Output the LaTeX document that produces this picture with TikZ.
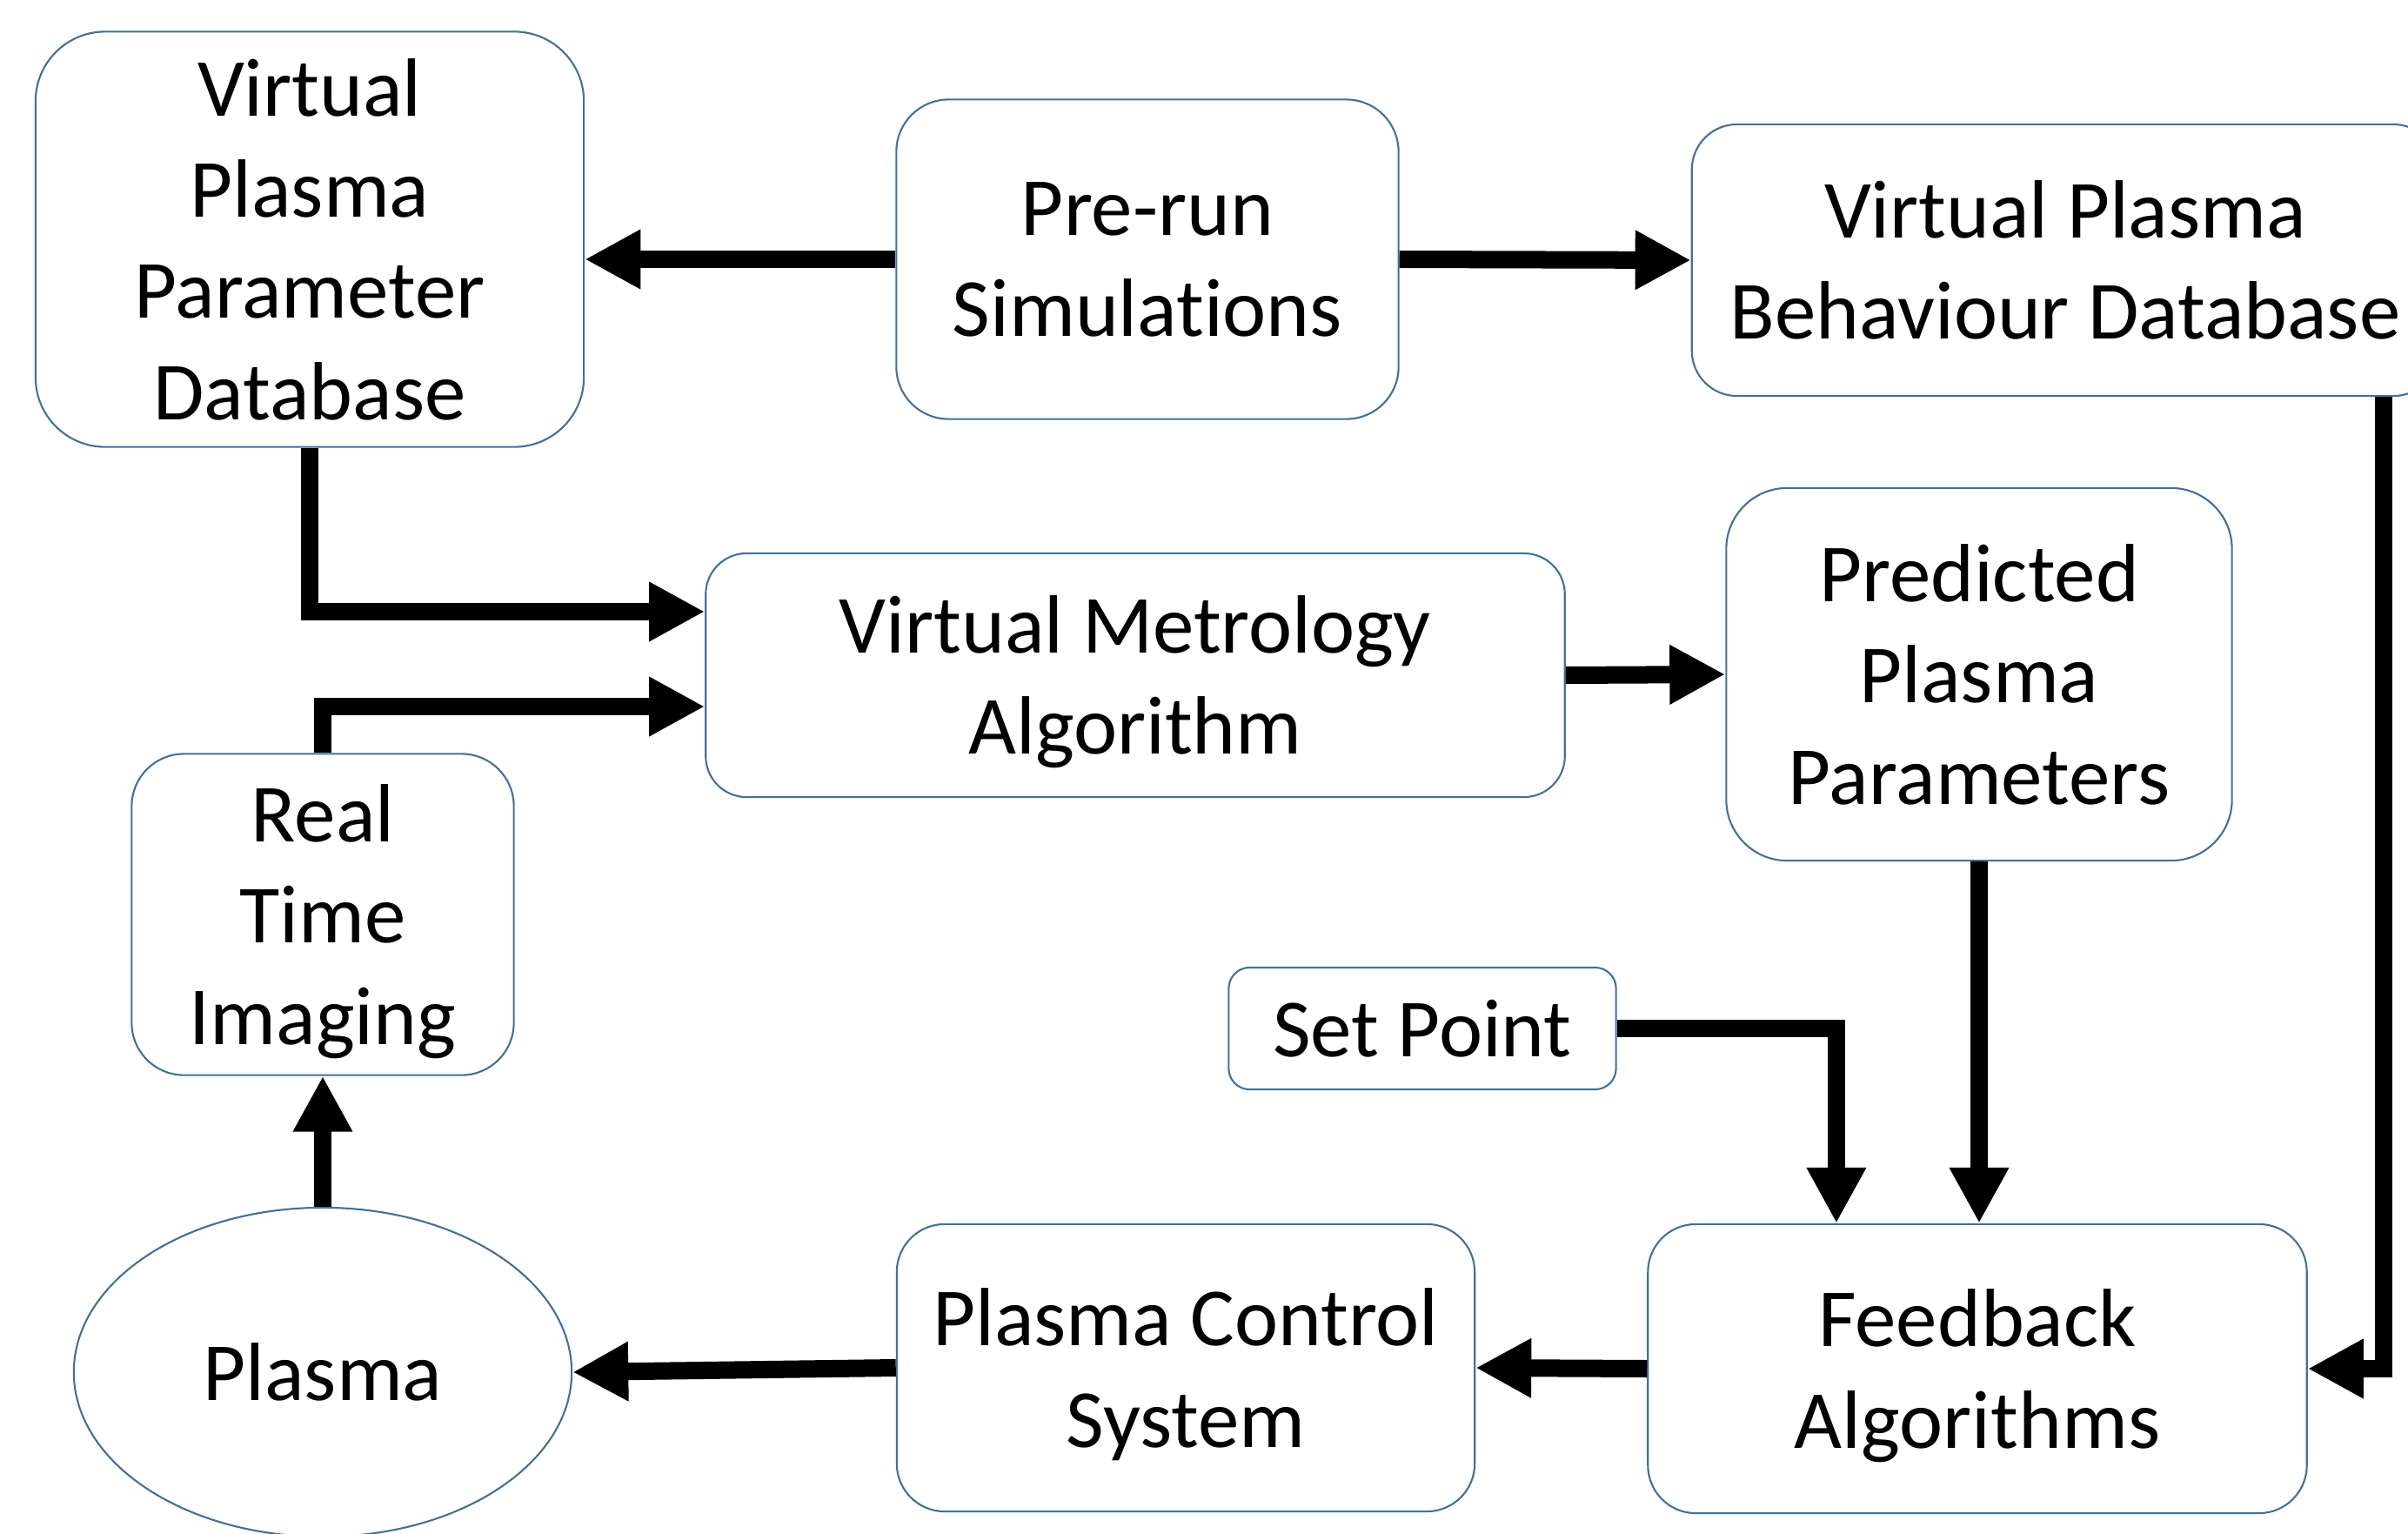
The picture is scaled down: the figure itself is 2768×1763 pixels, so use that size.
\documentclass[tikz,border=0pt]{standalone}
\usepackage{fontspec}
\setmainfont[Ligatures=NoCommon]{Carlito}
\usetikzlibrary{arrows.meta,shapes.geometric}
\definecolor{boxblue}{RGB}{65,113,156}
\tikzset{
    blk/.style={draw=boxblue, line width=0.6pt, fill=white, rounded corners=#1, align=center, inner sep=0pt, text depth=0pt},
    blk/.default=0.6cm,
    flow/.style={-{Triangle[length=0.64cm,width=0.64cm]}, line width=0.2cm},
}
\begin{document}
\begin{tikzpicture}[x=0.01cm, y=-0.01cm, font=\fontsize{27}{33}\selectfont]
                        \useasboundingbox (0,0) rectangle (2768,1763);

                        \node[blk=0.8cm, minimum width=6.3cm, minimum height=4.77cm] (vppd) at (356,275) {Virtual\\Plasma\\Parameter\\Database};
                        \node[blk=0.6cm, minimum width=5.77cm, minimum height=3.67cm] (prerun) at (1319,298) {Pre-run\\Simulations};
                        \node[blk=0.52cm, minimum width=8.58cm, minimum height=3.12cm] (vpbd) at (2374,299) {Virtual Plasma\\Behaviour Database};
                        \node[blk=0.47cm, minimum width=9.87cm, minimum height=2.8cm] (vma) at (1305,776) {Virtual Metrology\\Algorithm};
                        \node[blk=0.7cm, minimum width=5.81cm, minimum height=4.28cm] (ppp) at (2275,775) {Predicted\\Plasma\\Parameters};
                        \node[blk=0.6cm, minimum width=4.39cm, minimum height=3.69cm] (rti) at (371,1051) {Real\\Time\\Imaging};
                        \node[blk=0.24cm, minimum width=4.45cm, minimum height=1.4cm] (setpt) at (1635,1182) {Set Point};
                        \node[blk=0.55cm, minimum width=6.64cm, minimum height=3.3cm] (pcs) at (1363,1572) {Plasma Control\\System};
                        \node[blk=0.55cm, minimum width=7.57cm, minimum height=3.32cm] (fa) at (2273,1573) {Feedback\\Algorithms};
                        \node[blk, ellipse, minimum width=5.72cm, minimum height=3.78cm] (plasma) at (371,1577) {Plasma};

                        \draw[flow] (prerun.west) -- (vppd.east |- prerun.west);
                        \draw[flow] (prerun.east) -- (vpbd.west);
                        \draw[flow] (vppd.south) |- ([yshift=0.73cm]vma.west);
                        \draw[flow] (rti.north) |- ([yshift=-0.36cm]vma.west);
                        \draw[flow] (vma.east) -- (ppp.west);
                        \draw[flow] (ppp.south) -- (ppp.south |- fa.north);
                        \draw[flow] (setpt.east) -| ([xshift=-1.62cm]fa.north);
                        \draw[flow] ([xshift=3.66cm]vpbd.south) |- (fa.east);
                        \draw[flow] (fa.west) -- (pcs.east);
                        \draw[flow] (pcs.west) -- (plasma.east);
                        \draw[flow] (plasma.north) -- (rti.south);
                    \end{tikzpicture}
\end{document}
